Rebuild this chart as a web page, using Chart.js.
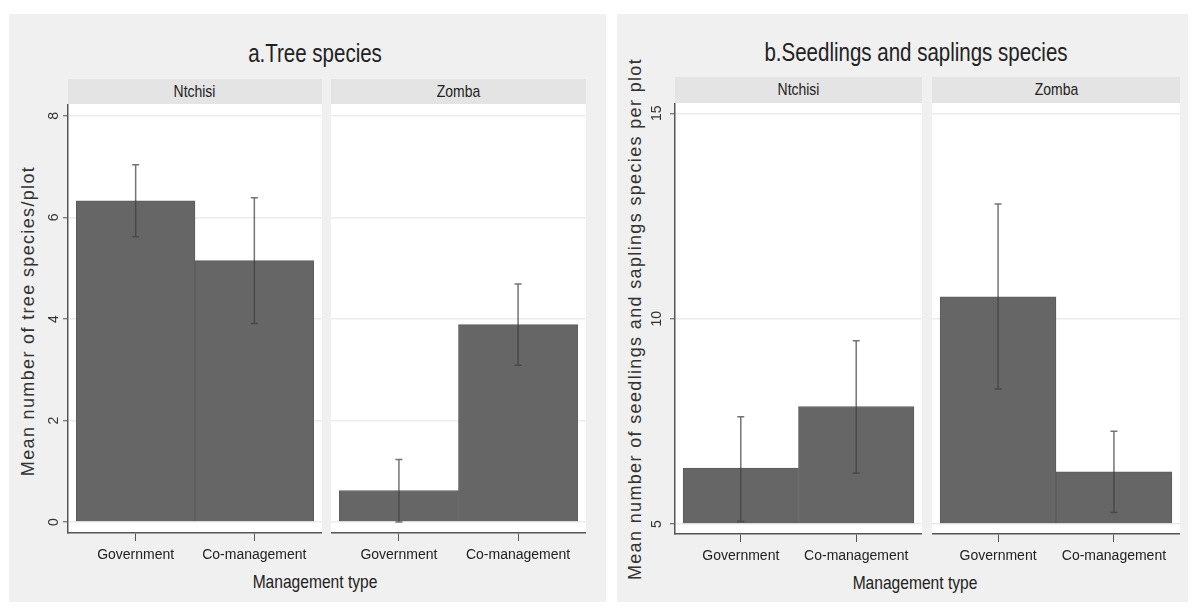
<!DOCTYPE html>
<html><head><meta charset="utf-8">
<script src="https://cdn.jsdelivr.net/npm/chart.js@4.4.1/dist/chart.umd.min.js"></script>
<style>
html,body{margin:0;padding:0;background:#fff;width:1192px;height:608px;overflow:hidden;position:relative;font-family:'Liberation Sans Narrow','Arial Narrow','Liberation Sans',sans-serif;color:#222}
.panel{position:absolute;background:#f0f0f0}
.t{position:absolute;white-space:nowrap;transform:translate(-50%,-50%) scaleX(0.82);line-height:1}
.strip{position:absolute;background:#e4e4e4;font-size:17px;display:flex;align-items:center;justify-content:center;color:#222}
.strip span{display:inline-block;transform:scaleX(0.82)}
.ytitle{position:absolute;white-space:nowrap;transform:translate(-50%,-50%) rotate(-90deg);font-family:'Liberation Sans',Arial,sans-serif;font-size:18px;letter-spacing:1.35px;line-height:1;color:#333}
canvas{position:absolute}
</style></head><body>
<div class="panel" style="left:9px;top:14px;width:597px;height:588px"></div>
<div class="panel" style="left:617px;top:14px;width:571px;height:588px"></div>

<div class="t" style="left:315px;top:53px;font-size:25px">a.Tree species</div>
<div class="t" style="left:916px;top:52px;font-size:25px">b.Seedlings and saplings species</div>

<div class="strip" style="left:68px;top:79px;width:254px;height:25px"><span>Ntchisi</span></div>
<div class="strip" style="left:331px;top:79px;width:255px;height:25px"><span>Zomba</span></div>
<div class="strip" style="left:675px;top:77px;width:247px;height:26px"><span>Ntchisi</span></div>
<div class="strip" style="left:932px;top:77px;width:248px;height:26px"><span>Zomba</span></div>

<div class="ytitle" style="left:28px;top:321px">Mean number of tree species/plot</div>
<div class="ytitle" style="left:635px;top:319px">Mean number of seedlings and saplings species per plot</div>

<div class="t" style="left:315px;top:581px;font-size:19px">Management type</div>
<div class="t" style="left:915px;top:582px;font-size:19px">Management type</div>

<canvas id="c1" width="292" height="466" style="left:30px;top:104px"></canvas>
<canvas id="c2" width="255" height="466" style="left:331px;top:104px"></canvas>
<canvas id="c3" width="285" height="467" style="left:637px;top:103px"></canvas>
<canvas id="c4" width="248" height="467" style="left:932px;top:103px"></canvas>

<script>
// ---- data ----
const categories = ['Government', 'Co-management'];
const regions = ['Ntchisi', 'Zomba'];

const treeNtchisiMean = [6.33, 5.15];
const treeNtchisiLow  = [5.62, 3.91];
const treeNtchisiHigh = [7.04, 6.39];
const treeZombaMean   = [0.62, 3.89];
const treeZombaLow    = [0.00, 3.09];
const treeZombaHigh   = [1.23, 4.69];

const seedNtchisiMean = [6.36, 7.86];
const seedNtchisiLow  = [5.06, 6.24];
const seedNtchisiHigh = [7.61, 9.46];
const seedZombaMean   = [10.53, 6.27];
const seedZombaLow    = [8.29, 5.28];
const seedZombaHigh   = [12.79, 7.26];

const treeTicks = [0, 2, 4, 6, 8];
const seedTicks = [5, 10, 15];

// ---- plugins ----
const plotBg = {
  id: 'plotBg',
  beforeDraw(chart) {
    const {ctx, chartArea: a} = chart;
    ctx.save();
    ctx.fillStyle = '#ffffff';
    ctx.fillRect(a.left, a.top, a.right - a.left, a.bottom - a.top);
    ctx.restore();
  }
};
const errorBars = {
  id: 'errorBars',
  afterDatasetsDraw(chart, args, opts) {
    const {ctx, scales: {x, y}} = chart;
    ctx.save();
    ctx.strokeStyle = 'rgba(62,62,62,0.72)';
    ctx.lineWidth = 1.5;
    opts.low.forEach((lo, i) => {
      const px = x.getPixelForValue(i);
      const yl = y.getPixelForValue(lo);
      const yh = y.getPixelForValue(opts.high[i]);
      ctx.beginPath();
      ctx.moveTo(px, yl); ctx.lineTo(px, yh);
      ctx.moveTo(px - 3.5, yl); ctx.lineTo(px + 3.5, yl);
      ctx.moveTo(px - 3.5, yh); ctx.lineTo(px + 3.5, yh);
      ctx.stroke();
    });
    ctx.restore();
  }
};

const NARROW = "'Liberation Sans Narrow','Arial Narrow','Liberation Sans',sans-serif";

function facet(id, means, low, high, yMin, yMax, yTicks, base, showY, yPad, xH, yW) {
  new Chart(document.getElementById(id), {
    type: 'bar',
    data: {
      datasets: [{
        data: means.map((v, i) => ({x: i, y: v})),
        backgroundColor: '#666666',
        borderColor: '#5c5c5c',
        borderWidth: 1,
        borderSkipped: 'start',
        base: base,
        barPercentage: 1,
        categoryPercentage: 1
      }]
    },
    options: {
      responsive: false,
      animation: false,
      events: [],
      layout: {padding: 0},
      plugins: {legend: {display: false}, tooltip: {enabled: false}, errorBars: {low, high}},
      scales: {
        x: {
          type: 'linear', offset: false, min: -0.57, max: 1.57,
          afterBuildTicks: s => { s.ticks = categories.map((c, i) => ({value: i})); },
          afterFit: s => { s.height = xH; s.paddingLeft = 0; s.paddingRight = 0; },
          grid: {display: true, offset: false, drawOnChartArea: false, drawTicks: true, tickLength: 8, tickColor: '#555', tickWidth: 1},
          border: {display: true, color: '#555', width: 1.5},
          ticks: {
            callback: v => categories[v], maxRotation: 0, minRotation: 0, autoSkip: false,
            padding: 6, color: '#222', font: {family: NARROW, size: 14}
          }
        },
        y: {
          type: 'linear', min: yMin, max: yMax,
          afterBuildTicks: s => { s.ticks = yTicks.map(v => ({value: v})); },
          afterFit: s => { s.width = yW; s.paddingTop = 0; s.paddingBottom = 0; },
          grid: {color: '#ececec', lineWidth: 1.5, drawTicks: showY, tickLength: 5, tickColor: '#555', tickWidth: 1},
          border: {display: showY, color: '#555', width: 1.5},
          ticks: {
            display: showY, minRotation: 90, maxRotation: 90, crossAlign: 'center',
            padding: yPad, color: '#333', font: {family: "'Liberation Sans',Arial,sans-serif", size: 14}
          }
        }
      }
    },
    plugins: [plotBg, errorBars]
  });
}

facet('c1', treeNtchisiMean, treeNtchisiLow, treeNtchisiHigh, -0.217, 8.236, treeTicks, 0, true, 5, 37, 38);
facet('c2', treeZombaMean, treeZombaLow, treeZombaHigh, -0.217, 8.236, treeTicks, 0, false, 0, 37, 0);
facet('c3', seedNtchisiMean, seedNtchisiLow, seedNtchisiHigh, 4.757, 15.25, seedTicks, 5, true, 5, 36, 38);
facet('c4', seedZombaMean, seedZombaLow, seedZombaHigh, 4.757, 15.25, seedTicks, 5, false, 0, 36, 0);
</script>
</body></html>
